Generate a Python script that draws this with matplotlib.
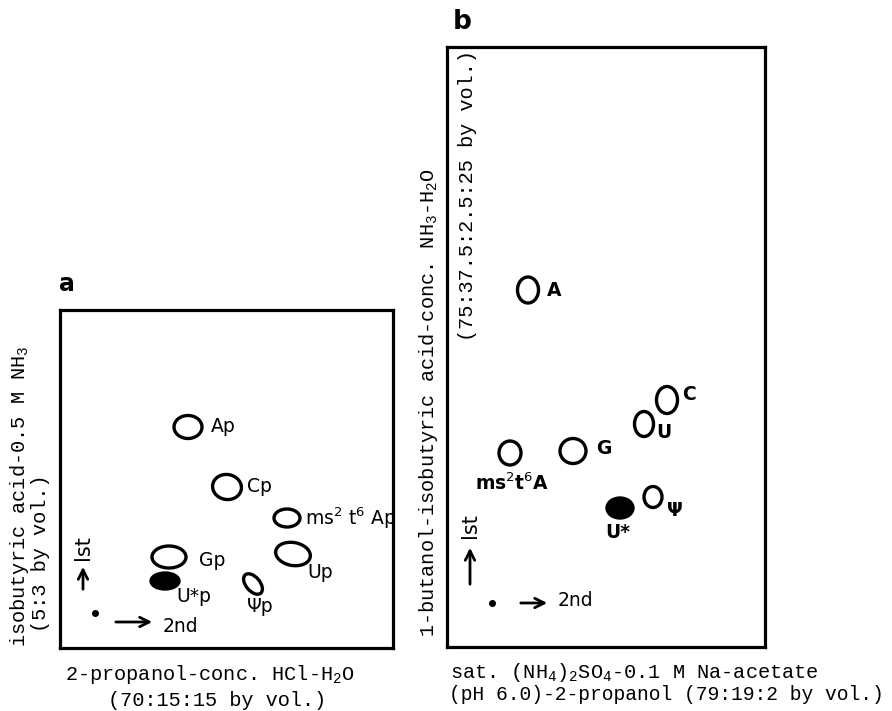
import matplotlib
matplotlib.use("Agg")
import matplotlib.pyplot as plt
from matplotlib.patches import Ellipse

W, H = 892, 711

# Panel a: spot positions on the plate (2nd dim x, 1st dim y)
a_names = ["Ap", "Cp", "ms2t6Ap", "Gp", "U*p", "Ψp", "Up"]
a_x = [128, 167, 227, 109, 105, 193, 233]
a_y = [221, 161, 130, 91, 67, 64, 94]
a_filled = [False, False, False, False, True, False, False]
a_origin = (35, 35)

# Panel b
b_names = ["A", "C", "U", "G", "ms2t6A", "Ψ", "U*"]
b_x = [81, 220, 197, 126, 63, 206, 173]
b_y = [357, 247, 223, 196, 194, 150, 139]
b_filled = [False, False, False, False, False, False, True]
b_origin = (45, 44)

# spot sizes (w, h, angle) and label placement
a_size = [(28, 23, 0), (29, 25, -10), (26, 18, 0), (34, 22, 0), (28, 16, 0), (14, 24, 40), (35, 23, -10)]
a_lab = {"Ap": ("Ap", 151, 221, "left"), "Cp": ("Cp", 187, 161, "left"),
         "ms2t6Ap": (r"ms$^2$ t$^6$ Ap", 245, 130, "left"), "Gp": ("Gp", 139, 88, "left"),
         "U*p": ("U*p", 116, 51, "left"), "Ψp": ("Ψp", 187, 41, "left"), "Up": ("Up", 247, 76, "left")}
b_size = [(21, 26, 0), (21, 27, 0), (19, 25, 0), (26, 25, 0), (22, 24, 0), (18, 21, 0), (26, 20, 0)]
b_lab = {"A": ("A", 100, 357, "left"), "C": ("C", 235, 252, "left"), "U": ("U", 209, 214, "left"),
         "G": ("G", 149, 199, "left"), "ms2t6A": (r"ms$^2$t$^6$A", 28, 164, "left"),
         "Ψ": ("Ψ", 228, 137, "center"), "U*": ("U*", 171, 115, "center")}

mono = "Liberation Mono"
fig = plt.figure(figsize=(W / 100, H / 100), dpi=100)


def px_axes(x0, y0, x1, y1):
    ax = fig.add_axes([x0 / W, 1 - y1 / H, (x1 - x0) / W, (y1 - y0) / H])
    ax.set_xlim(0, x1 - x0)
    ax.set_ylim(0, y1 - y0)
    ax.set_xticks([])
    ax.set_yticks([])
    for s in ax.spines.values():
        s.set_linewidth(2.3)
    return ax


def draw_panel(ax, names, xs, ys, filled, sizes, labs, origin, weight, arrows):
    for n, x, y, f, (w, h, ang) in zip(names, xs, ys, filled, sizes):
        ax.add_patch(Ellipse((x, y), w, h, angle=ang, fill=f, facecolor="black",
                             edgecolor="black", lw=2.4))
        t, lx, ly, ha = labs[n]
        ax.text(lx, ly, t, ha=ha, va="center", fontsize=13.5, fontweight=weight,
                family="DejaVu Sans")
    ox, oy = origin
    ax.plot(ox, oy, "o", color="black", ms=4)
    (h0, h1, hy, tx, ty), (vx, v0, v1, ly) = arrows
    ax.annotate("", xy=(h1, hy), xytext=(h0, hy),
                arrowprops=dict(arrowstyle="->", lw=2, mutation_scale=17, color="black"))
    ax.text(tx, ty, "2nd", ha="left", va="center", fontsize=13.5, family="DejaVu Sans")
    ax.annotate("", xy=(vx, v1), xytext=(vx, v0),
                arrowprops=dict(arrowstyle="->", lw=2, mutation_scale=17, color="black"))
    ax.text(vx, ly, "lst", ha="center", va="bottom", rotation=90, fontsize=15,
            family="DejaVu Sans")


axa = px_axes(60, 310, 393, 648)
draw_panel(axa, a_names, a_x, a_y, a_filled, a_size, a_lab, a_origin, "normal",
           ((53, 95, 26, 103, 21), (23, 56, 84, 88)))
axb = px_axes(447, 47, 765, 647)
draw_panel(axb, b_names, b_x, b_y, b_filled, b_size, b_lab, b_origin, "bold",
           ((71, 103, 44, 111, 47), (23, 60, 102, 109)))


def ftext(x, y, s, **kw):
    kw.setdefault("fontsize", 14.6)
    kw.setdefault("family", mono)
    fig.text(x / W, 1 - y / H, s, **kw)


# panel letters
ftext(67, 284, "a", fontsize=17, fontweight="bold", family="DejaVu Sans", ha="center", va="center")
ftext(462, 22, "b", fontsize=19, fontweight="bold", family="DejaVu Sans", ha="center", va="center")

# panel a axis titles
ftext(65, 675, r"2-propanol-conc. HCl-H$\mathregular{_2}$O", ha="left", va="center")
ftext(108, 700, "(70:15:15 by vol.)", ha="left", va="center")
ftext(20, 647, r"isobutyric acid-0.5 M NH$\mathregular{_3}$", rotation=90, ha="center", va="bottom")
ftext(41, 632, "(5:3 by vol.)", rotation=90, ha="center", va="bottom")

# panel b axis titles
ftext(450, 673, r"sat. (NH$\mathregular{_4}$)$\mathregular{_2}$SO$\mathregular{_4}$-0.1 M Na-acetate",
      ha="left", va="center")
ftext(449, 695, "(pH 6.0)-2-propanol (79:19:2 by vol.)", ha="left", va="center", fontsize=14.1)
ftext(429, 637, r"1-butanol-isobutyric acid-conc. NH$\mathregular{_3}$-H$\mathregular{_2}$O",
      rotation=90, ha="center", va="bottom")
ftext(468, 50, "(75:37.5:2.5:25 by vol.)", rotation=90, ha="center", va="top")

fig.savefig("out.png", dpi=100)
